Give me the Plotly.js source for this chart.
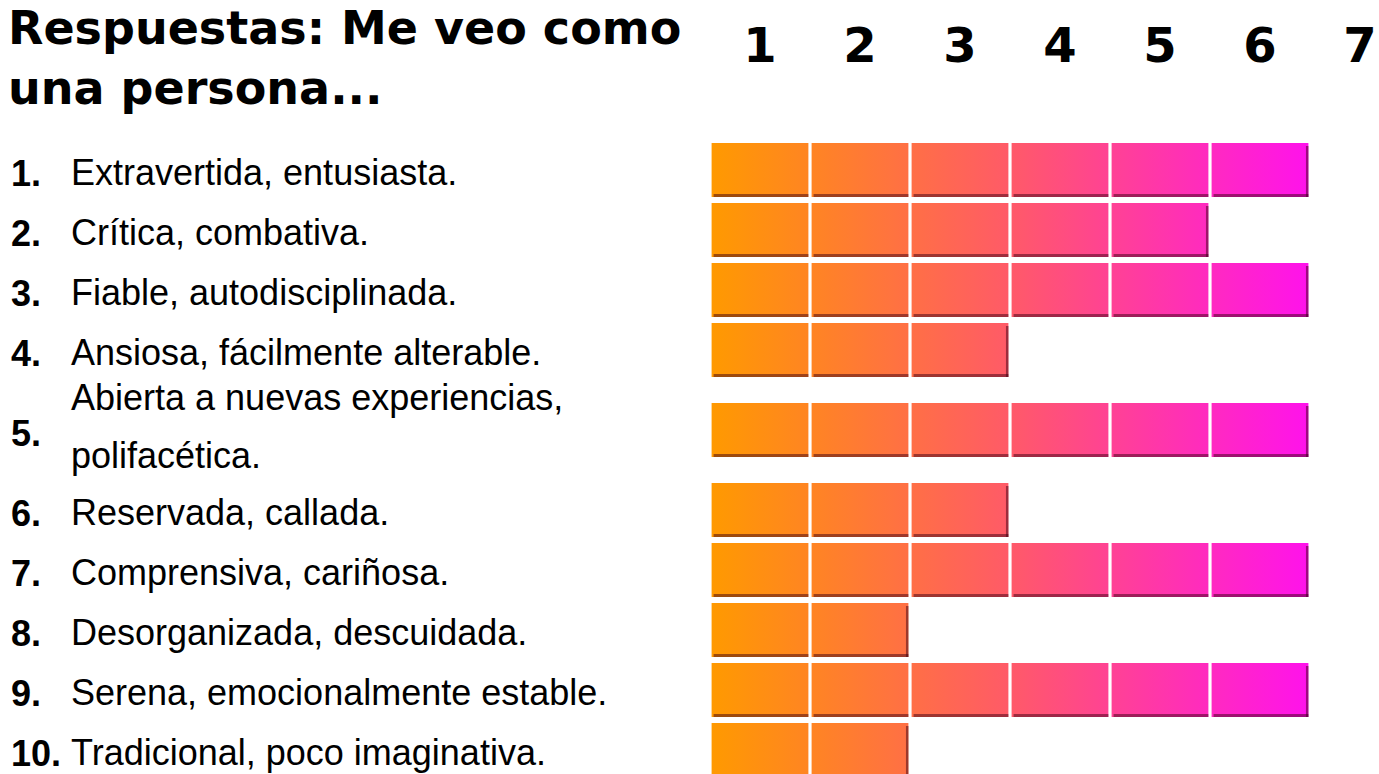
<!DOCTYPE html>
<html>
<head>
<meta charset="utf-8">
<script src="https://cdn.plot.ly/plotly-3.0.1.min.js"></script>
<style>
  html, body { margin: 0; padding: 0; background: #ffffff; }
  #chart { width: 1379px; height: 774px; }
</style>
</head>
<body>
<div id="chart"></div>
<script>
// ---- data ----
const itemNumbers = ['1.', '2.', '3.', '4.', '5.', '6.', '7.', '8.', '9.', '10.'];
const itemLabels = [
  'Extravertida, entusiasta.',
  'Crítica, combativa.',
  'Fiable, autodisciplinada.',
  'Ansiosa, fácilmente alterable.',
  'Abierta a nuevas experiencias,<br>polifacética.',
  'Reservada, callada.',
  'Comprensiva, cariñosa.',
  'Desorganizada, descuidada.',
  'Serena, emocionalmente estable.',
  'Tradicional, poco imaginativa.'
];
const scores = [6, 5, 6, 3, 6, 3, 6, 2, 6, 2];
const scaleTicks = ['1', '2', '3', '4', '5', '6', '7'];
const chartTitle = 'Respuestas: Me veo como<br>una persona...';

// ---- layout helpers ----
const W = 1379, H = 774;
const PLOT_LEFT = 710, UNIT_PX = 100;
const ROW_H = 60, EXTRA_LINE_H = 40, FIRST_ROW_TOP = 140;
const HALF_BAR = 27, GAP = 0.016;
const HEAVY = '"DejaVu Sans", Verdana, sans-serif';
const ARIAL = '"Liberation Sans", Arial, sans-serif';

const centers = [];
let cursor = FIRST_ROW_TOP;
itemLabels.forEach(lbl => {
  const lines = lbl.split('<br>').length;
  const h = ROW_H + (lines - 1) * EXTRA_LINE_H;
  centers.push(cursor + h / 2);
  cursor += h;
});

const gradientScale = [[0, '#FF9A00'], [0.5, '#FF5A68'], [1, '#FF12EC']];
const traces = [];
const annotations = [];

annotations.push({
  xref: 'paper', yref: 'paper', x: 7 / W, y: 1, xanchor: 'left', yanchor: 'top',
  align: 'left', text: chartTitle, showarrow: false, borderpad: 0,
  font: { family: HEAVY, size: 46, weight: 'bold', color: '#000' }
});

scores.forEach((v, i) => {
  const yc = centers[i];
  const xs = [], ys = [], sx = [], sy = [];
  for (let k = 1; k <= v; k++) {
    const a = k - 1 + GAP, b = k - GAP;
    xs.push(a, b, b, a, a, null);
    ys.push(yc - HALF_BAR, yc - HALF_BAR, yc + HALF_BAR, yc + HALF_BAR, yc - HALF_BAR, null);
    sx.push(a + 0.02, b, null);
    sy.push(yc + HALF_BAR - 1.5, yc + HALF_BAR - 1.5, null);
  }
  traces.push({
    type: 'scatter', mode: 'lines', x: xs, y: ys,
    fill: 'toself', line: { width: 0, color: 'rgba(0,0,0,0)' },
    fillcolor: '#FF5A68',
    fillgradient: { type: 'horizontal', start: 0, stop: scaleTicks.length - 1, colorscale: gradientScale },
    hoverinfo: 'skip', showlegend: false
  });
  // bottom shadow
  traces.push({
    type: 'scatter', mode: 'lines', x: sx, y: sy,
    line: { width: 3, color: 'rgba(60,0,20,0.5)' },
    hoverinfo: 'skip', showlegend: false
  });
  // right shadow of last block
  const r = v - GAP - 0.012;
  traces.push({
    type: 'scatter', mode: 'lines', x: [r, r], y: [yc - HALF_BAR + 3, yc + HALF_BAR],
    line: { width: 2.5, color: 'rgba(60,0,20,0.5)' },
    hoverinfo: 'skip', showlegend: false
  });

  annotations.push({
    xref: 'paper', yref: 'y', x: 9 / W, y: yc + 3, xanchor: 'left', yanchor: 'middle',
    text: itemNumbers[i], showarrow: false,
    font: { family: ARIAL, size: 36, weight: 'bold', color: '#000' }
  });
  const lines = itemLabels[i].split('<br>');
  const spacing = 58;
  lines.forEach((ln, j) => {
    const off = (j - (lines.length - 1) / 2) * spacing;
    annotations.push({
      xref: 'paper', yref: 'y', x: 69 / W, y: yc + 2 + off - (lines.length > 1 ? 6 : 0),
      xanchor: 'left', yanchor: 'middle',
      text: ln, showarrow: false,
      font: { family: ARIAL, size: 36, color: '#000' }
    });
  });
});

const layout = {
  width: W, height: H,
  margin: { l: 0, r: 0, t: 0, b: 0, pad: 0 },
  paper_bgcolor: '#ffffff', plot_bgcolor: '#ffffff',
  showlegend: false,
  xaxis: {
    domain: [PLOT_LEFT / W, 1],
    range: [0, (W - PLOT_LEFT) / UNIT_PX],
    side: 'top', anchor: 'free', position: 1 - 72 / H,
    tickvals: scaleTicks.map((t, i) => i + 0.5),
    ticktext: scaleTicks,
    ticks: '', showgrid: false, zeroline: false, showline: false,
    ticklabeloverflow: 'allow',
    tickfont: { family: HEAVY, size: 48, weight: 'bold', color: '#000' },
    fixedrange: true
  },
  yaxis: {
    domain: [0, 1], range: [H, 0],
    visible: false, showgrid: false, zeroline: false, fixedrange: true
  },
  annotations: annotations
};

Plotly.newPlot('chart', traces, layout, { staticPlot: true, displayModeBar: false });
</script>
</body>
</html>
